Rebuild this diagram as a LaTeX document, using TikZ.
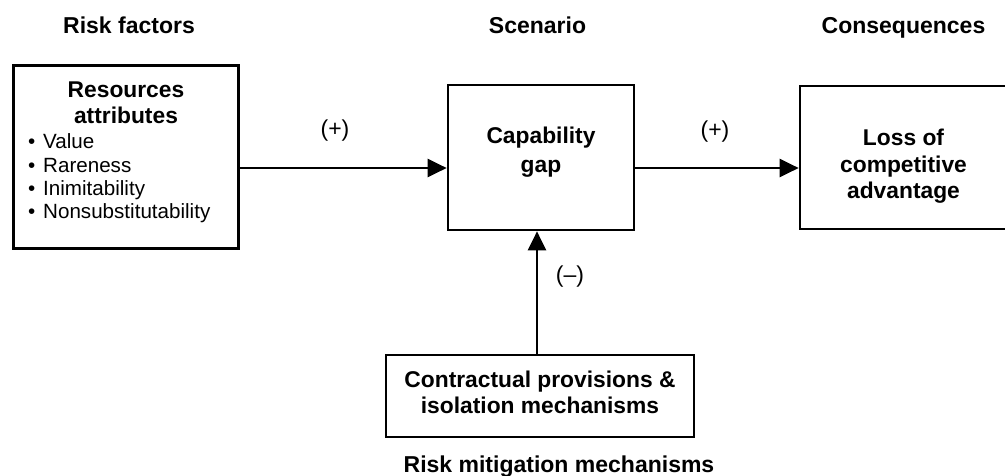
\documentclass[tikz,border=0pt]{standalone}
\usepackage{fontspec}
\setmainfont{Liberation Sans}
\usetikzlibrary{arrows.meta}

\begin{document}
\begin{tikzpicture}[x=1pt,y=-1pt,
  box/.style={draw=black,line width=2.7pt,inner sep=0pt},
  hd/.style={anchor=base,inner sep=0pt,font=\fontsize{23}{27}\selectfont\bfseries},
  bt/.style={anchor=base,inner sep=0pt,font=\fontsize{22.8}{27}\selectfont\bfseries},
  it/.style={anchor=base west,inner sep=0pt,font=\fontsize{20.6}{24}\selectfont},
  sign/.style={inner sep=0pt,font=\fontsize{23}{26}\selectfont},
  arr/.style={line width=2.4pt,-{Triangle[length=19pt,width=18pt]}}]
\useasboundingbox (0,0) rectangle (1005,475);

% column headings
\node[hd] (h1) at (129,33) {Risk factors};
\node[hd] (h2) at (537.5,33) {Scenario};
\node[hd] (h3) at (903.5,33) {Consequences};
\node[hd] (h4) at (559,472) {Risk mitigation mechanisms};

% boxes
\node[box,minimum width=225pt,minimum height=183pt] (rf) at (126,157) {};
\node[box,minimum width=186pt,minimum height=145pt] (cg) at (541,157.5) {};
\node[box,minimum width=207pt,minimum height=143pt] (lc) at (903.5,157.5) {};
\node[box,minimum width=308pt,minimum height=82pt] (mm) at (540,396) {};

% risk factor text
\node[bt] (rf1) at (126,97) {Resources};
\node[bt] (rf2) at (126,123) {attributes};
\node[it] (b1) at (28,148) {\makebox[15pt][l]{\textbullet}Value};
\node[it] (b2) at (28,172) {\makebox[15pt][l]{\textbullet}Rareness};
\node[it] (b3) at (28,195) {\makebox[15pt][l]{\textbullet}Inimitability};
\node[it] (b4) at (28,218) {\makebox[15pt][l]{\textbullet}Nonsubstitutability};

% scenario text
\node[bt] (cg1) at (541,143) {Capability};
\node[bt] (cg2) at (541,172) {gap};

% consequence text
\node[bt] (lc1) at (903.5,145) {Loss of};
\node[bt] (lc2) at (903.5,172) {competitive};
\node[bt] (lc3) at (903.5,198) {advantage};

% mitigation text
\node[bt] (mm1) at (540,387) {Contractual provisions \&};
\node[bt] (mm2) at (540,413) {isolation mechanisms};

% connectors
\coordinate (ya) at (0,168);
\coordinate (xa) at (537,0);
\draw[arr] (rf.east |- ya) -- (cg.west |- ya);
\draw[arr] (cg.east |- ya) -- (lc.west |- ya);
\draw[arr] (mm.north -| xa) -- (cg.south -| xa);

% signs
\node[sign] (s1) at (335,131) {(+)};
\node[sign] (s2) at (715,132) {(+)};
\node[sign] (s3) at (570,277) {(–)};
\end{tikzpicture}
\end{document}
